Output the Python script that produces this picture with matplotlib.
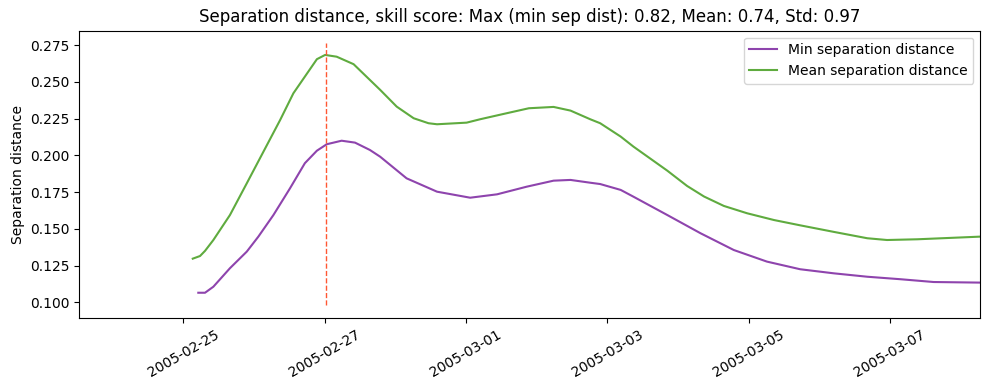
import matplotlib
matplotlib.use('Agg')
import matplotlib.pyplot as plt
import matplotlib.dates as mdates
import pandas as pd

# mean separation distance (green)
mean_times = ['2005-02-25 03:12', '2005-02-25 05:40', '2005-02-25 07:22', '2005-02-25 10:12',
              '2005-02-25 15:50', '2005-02-25 21:33', '2005-02-26 03:12', '2005-02-26 08:53',
              '2005-02-26 13:23', '2005-02-26 21:22', '2005-02-27 00:10', '2005-02-27 04:05',
              '2005-02-27 09:50', '2005-02-27 18:52', '2005-02-28 00:29', '2005-02-28 06:14',
              '2005-02-28 11:17', '2005-02-28 14:10', '2005-03-01 00:14', '2005-03-01 04:48',
              '2005-03-01 12:43', '2005-03-01 21:22', '2005-03-02 05:46', '2005-03-02 11:31',
              '2005-03-02 18:14', '2005-03-02 21:36', '2005-03-03 04:34', '2005-03-03 08:53',
              '2005-03-03 20:24', '2005-03-04 03:07', '2005-03-04 08:53', '2005-03-04 15:36',
              '2005-03-04 23:31', '2005-03-05 08:38', '2005-03-05 17:31', '2005-03-06 05:02',
              '2005-03-06 16:19', '2005-03-06 23:02', '2005-03-07 09:22', '2005-03-08 06:43']
mean_sep = [0.1297, 0.1315, 0.1350, 0.1424, 0.1594, 0.1810, 0.2025, 0.2241,
            0.2423, 0.2655, 0.2684, 0.2672, 0.2621, 0.2446, 0.2332, 0.2253,
            0.2219, 0.2212, 0.2223, 0.2246, 0.2282, 0.2321, 0.2330, 0.2305,
            0.2246, 0.2219, 0.2128, 0.2060, 0.1896, 0.1792, 0.1720, 0.1656,
            0.1606, 0.1560, 0.1524, 0.1479, 0.1436, 0.1424, 0.1429, 0.1447]

# min separation distance (purple)
min_times = ['2005-02-25 05:05', '2005-02-25 07:22', '2005-02-25 10:12', '2005-02-25 15:50',
             '2005-02-25 21:33', '2005-02-26 01:29', '2005-02-26 06:36', '2005-02-26 12:14',
             '2005-02-26 17:17', '2005-02-26 21:22', '2005-02-27 00:43', '2005-02-27 05:46',
             '2005-02-27 10:19', '2005-02-27 15:22', '2005-02-27 18:52', '2005-02-28 03:50',
             '2005-02-28 14:10', '2005-03-01 01:26', '2005-03-01 10:34', '2005-03-01 20:38',
             '2005-03-02 05:46', '2005-03-02 11:31', '2005-03-02 18:14', '2005-03-02 21:36',
             '2005-03-03 04:34', '2005-03-03 08:53', '2005-03-03 20:24', '2005-03-04 07:41',
             '2005-03-04 18:58', '2005-03-05 06:14', '2005-03-05 17:31', '2005-03-06 05:02',
             '2005-03-06 16:19', '2005-03-07 03:36', '2005-03-07 14:53', '2005-03-08 06:43']
min_sep = [0.1065, 0.1065, 0.1106, 0.1232, 0.1345, 0.1447, 0.1594, 0.1776,
           0.1947, 0.2032, 0.2076, 0.2100, 0.2087, 0.2037, 0.1991, 0.1844,
           0.1753, 0.1712, 0.1735, 0.1787, 0.1828, 0.1833, 0.1814, 0.1805,
           0.1765, 0.1719, 0.1594, 0.1470, 0.1356, 0.1277, 0.1225, 0.1197,
           0.1174, 0.1157, 0.1138, 0.1134]

max_time = '2005-02-27 00:37'
title = 'Separation distance, skill score: Max (min sep dist): 0.82, Mean: 0.74, Std: 0.97'

fig, ax = plt.subplots(figsize=(9.89, 3.9), dpi=100)
ax.plot(pd.to_datetime(min_times), min_sep, color='#8e44ad', label='Min separation distance')
ax.plot(pd.to_datetime(mean_times), mean_sep, color='#5fab3f', label='Mean separation distance')
ax.vlines(pd.to_datetime(max_time), 0.098, 0.2765, colors='#ff5733', linestyles='--', linewidth=1)

ax.set_xlim(pd.to_datetime('2005-02-23 12:40'), pd.to_datetime('2005-03-08 06:43'))
ax.set_ylim(0.0893, 0.2849)
ax.xaxis.set_major_locator(mdates.DayLocator(bymonthday=[1, 3, 5, 7, 25, 27]))
ax.xaxis.set_major_formatter(mdates.DateFormatter('%Y-%m-%d'))
plt.setp(ax.get_xticklabels(), rotation=30)
ax.set_ylabel('Separation distance')
ax.set_title(title)
ax.legend(loc='upper right')
fig.subplots_adjust(left=0.0802, right=0.9912, top=0.9213, bottom=0.1846)
fig.savefig('out.png')
